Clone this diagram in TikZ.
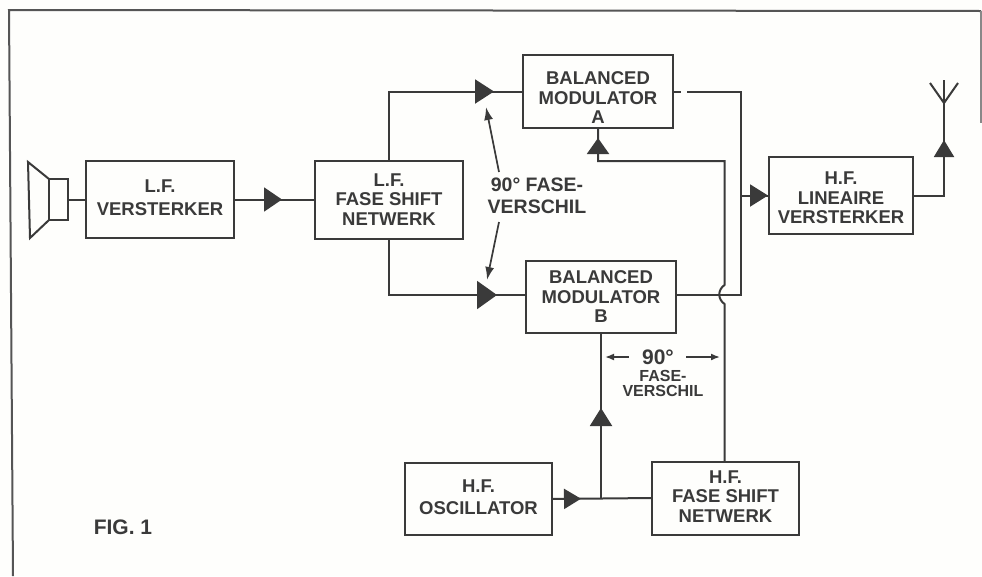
\documentclass[tikz,border=0pt]{standalone}
\usepackage{fontspec}
\usepackage{xcolor}
\usepackage{tikz}
\usetikzlibrary{arrows.meta,positioning,calc,decorations.markings}
\setmainfont{Liberation Sans}[BoldFont={Liberation Sans Bold}]
\definecolor{FigInk}{HTML}{3A3A3A}
\definecolor{FigFrame}{HTML}{555555}
\definecolor{FigPaper}{HTML}{FEFEFC}
\begin{document}
\begin{tikzpicture}[x=1pt,y=-1pt,>=Latex]
\tikzset{blok/.style={draw=FigInk,line width=2pt,outer sep=0pt,inner sep=0pt,align=center,text=FigInk,font=\bfseries\fontsize{18.5}{19.5}\selectfont},wire/.style={draw=FigInk,line width=2pt},pijl/.style={draw=FigInk,line width=1.7pt,-{Latex[length=13pt,width=9pt]}},klein/.style={draw=FigInk,line width=1.7pt,-{Latex[length=9pt,width=7pt]}},bijschrift/.style={inner sep=0pt,align=center,text=FigInk},tip/.style n args={3}{postaction={decorate,decoration={markings,mark=at position #1 with {\arrow{Triangle[length=#2,width=#3]}}}}}}
\useasboundingbox[fill=FigPaper] (0,0) rectangle (982,576);
\draw[FigFrame,line width=2pt] (13,576) -- (9,10) -- (981,11);
\draw[FigFrame!70,line width=1.2pt] (981,11) -- (981,123);
% blocks
\node[blok,minimum width=148pt,minimum height=77pt] (lfamp) at (160,199.5) {L.F.\\[3pt]VERSTERKER\rule[-4pt]{0pt}{4pt}};
\node[blok,minimum width=148pt,minimum height=78pt,right=81pt of lfamp] (lffase) {L.F.\\FASE SHIFT\\NETWERK};
\node[blok,minimum width=150pt,minimum height=73pt] (modA) at (598,91.5) {\rule{0pt}{25pt}BALANCED\\MODULATOR\\A};
\node[blok,minimum width=150pt,minimum height=72pt,below=133pt of modA,xshift=3pt] (modB) {BALANCED\\MODULATOR\\B};
\node[blok,minimum width=144pt,minimum height=77pt] (hflin) at (841,195.5) {\rule{0pt}{18pt}H.F.\\LINEAIRE\\VERSTERKER};
\node[blok,minimum width=147pt,minimum height=72pt] (osc) at (478.5,499) {H.F.\\[3pt]OSCILLATOR\rule[-4pt]{0pt}{4pt}};
\node[blok,minimum width=147pt,minimum height=73pt,right=100pt of osc,yshift=1pt] (hffase) {H.F.\\FASE SHIFT\\NETWERK\rule[-3pt]{0pt}{3pt}};
% speaker
\node[draw=FigInk,line width=2pt,outer sep=0pt,minimum width=19pt,minimum height=41pt,inner sep=0pt] (spk) at (58.5,199.5) {};
\draw[wire,line join=miter] (spk.north west) -- (28,162) -- (30,238) -- (spk.south west);
\draw[wire] (spk.east) -- (lfamp.west);
% signal lines
\coordinate (gapA) at (687,91.5);
\coordinate (busT) at (741,295);
\coordinate (hopB) at (724.5,304);
\coordinate (hopT) at (724.5,285);
\coordinate (oscT) at (osc.east -| modB.south);
\coordinate (antB) at (944,103);
\draw[wire,tip={48pt}{18pt}{24pt}] (lfamp.east) -- (lffase.west);
\draw[wire,tip={-29pt}{19pt}{24pt}] (lffase.north) |- (modA.west);
\draw[wire,tip={-29pt}{20pt}{28pt}] (lffase.south) |- ([yshift=2pt]modB.west);
\draw[wire] (modA.east) -- ++(8,0);
\draw[wire] (gapA) -| (busT) -- ([yshift=2pt]modB.east);
\draw[wire,tip={-1pt}{18pt}{22pt}] (hflin.west -| busT) -- (hflin.west);
\draw[wire,tip={-10pt}{16pt}{22pt}] ([xshift=-1pt]hffase.north) -- (hopB) .. controls +(-7,-5) and +(-7,5) .. (hopT) -- (724.5,161) -| (modA.south);
\draw[wire,tip={29pt}{17pt}{20pt}] (osc.east) -- (hffase.west);
\draw[wire,tip={91pt}{18pt}{22pt}] (oscT) -- (modB.south);
\draw[wire,tip={-37pt}{17pt}{20pt}] (hflin.east) -| (antB);
% antenna
\draw[wire] (antB) -- ++(-14,-20);
\draw[wire] (antB) -- ++(14,-20);
\draw[wire] (antB) -- ++(0,-23);
% phase labels
\node[bijschrift,font=\bfseries\fontsize{19.5}{22}\selectfont] (faseLF) at (537,196) {90° FASE-\\VERSCHIL};
\coordinate (faseLFa) at (499,172);
\coordinate (faseLFb) at (486,107);
\coordinate (faseLFc) at (499,222);
\coordinate (faseLFd) at (487,280);
\draw[pijl] (faseLFa) -- (faseLFb);
\draw[pijl] (faseLFc) -- (faseLFd);
\node[bijschrift,font=\bfseries\fontsize{21}{22}\selectfont] (hf90) at (658,357) {90°};
\node[bijschrift,font=\bfseries\fontsize{16}{15}\selectfont,below=5pt of hf90,xshift=5pt] (hftxt) {FASE-\\VERSCHIL};
\coordinate (hfL) at (605,357);
\coordinate (hfR) at (720,357);
\draw[klein,shorten <=13pt] (hf90.west) -- (hfL);
\draw[klein,shorten <=12pt] (hf90.east) -- (hfR);
\node[bijschrift,font=\bfseries\fontsize{21}{22}\selectfont] (fig) at (123,527) {FIG. 1};
\end{tikzpicture}
\end{document}
